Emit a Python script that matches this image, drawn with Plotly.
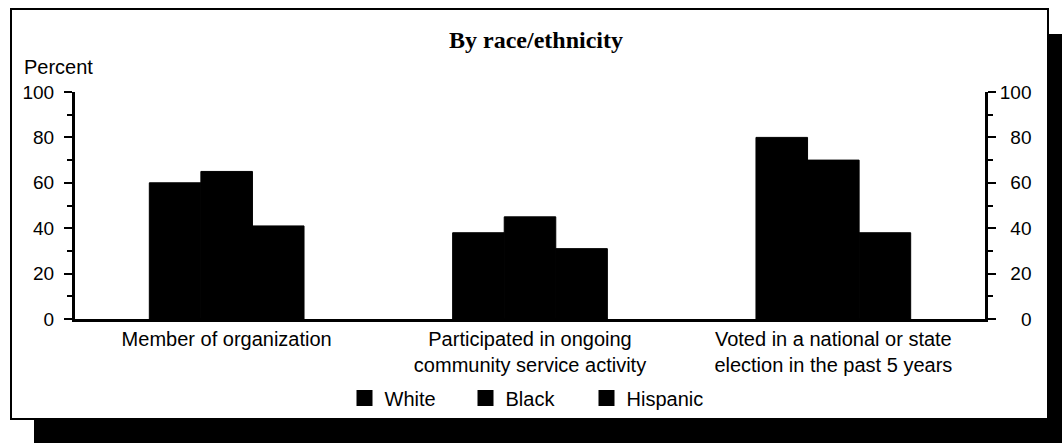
import plotly.graph_objects as go

categories = ["Member of organization",
              "Participated in ongoing<br>community service activity",
              "Voted in a national or state<br>election in the past 5 years"]
series_names = ["White", "Black", "Hispanic"]
white = [60, 38, 80]
black = [65, 45, 70]
hispanic = [41, 31, 38]
tick_vals = [0, 20, 40, 60, 80, 100]
tick_text_left = ["0", "20", "40", "60", "80", "100"]
tick_text_right = ["\u2007\u20070", "\u200720", "\u200740", "\u200760", "\u200780", "100"]

W, H = 1062, 443
def px(x):
    return x / W
def py(y):
    return 1 - y / H

FONT = "Liberation Sans, Arial, sans-serif"

fig = go.Figure()
for name, vals in zip(series_names, [white, black, hispanic]):
    fig.add_trace(go.Bar(x=categories, y=vals, name=name,
                         marker=dict(color="black", line=dict(width=1, color="black")),
                         showlegend=False))
# legend entries
for name in series_names:
    fig.add_trace(go.Scatter(x=[None], y=[None], mode="markers", name=name,
                             marker=dict(symbol="square", size=16, color="black")))
# right axis carrier
fig.add_trace(go.Scatter(x=[categories[0]], y=[None], yaxis="y2", showlegend=False, hoverinfo="skip"))

fig.update_layout(
    width=W, height=H,
    margin=dict(l=0, r=0, t=0, b=0),
    paper_bgcolor="white",
    plot_bgcolor="rgba(0,0,0,0)",
    barmode="group", bargap=0.49, bargroupgap=0,
    font=dict(family=FONT, size=20, color="black"),
    title=dict(text="<b>By race/ethnicity</b>", x=px(536), xanchor="center", y=py(40), yanchor="middle",
               font=dict(family="Liberation Serif, Times New Roman, serif", size=24, color="black")),
    xaxis=dict(domain=[px(75), px(985)], showline=True, linecolor="black", linewidth=3,
               ticks="", tickfont=dict(size=20, color="black"), automargin=False, showgrid=False,
               zeroline=False, fixedrange=True),
    yaxis=dict(domain=[py(319), py(92)], range=[0, 100], tickvals=tick_vals, ticktext=tick_text_left,
               showline=True, linecolor="black", linewidth=3, ticks="outside", ticklen=8, tickwidth=2,
               tickcolor="black", showgrid=False, zeroline=False, automargin=False,
               ticklabelstandoff=6,
               minor=dict(dtick=10, ticks="outside", ticklen=5, tickwidth=2, tickcolor="black"),
               tickfont=dict(size=19, color="black")),
    yaxis2=dict(overlaying="y", side="right", anchor="x", range=[0, 100], tickvals=tick_vals,
                ticktext=tick_text_right, showline=True, linecolor="black", linewidth=3,
                ticks="outside", ticklen=8, tickwidth=2, tickcolor="black", showgrid=False,
                zeroline=False, automargin=False,
                minor=dict(dtick=10, ticks="outside", ticklen=5, tickwidth=2, tickcolor="black"),
                tickfont=dict(size=19, color="black")),
    legend=dict(orientation="h", x=px(526), xanchor="center", y=py(398), yanchor="middle",
                font=dict(size=20, color="black"), bgcolor="rgba(0,0,0,0)", itemclick=False,
                entrywidth=76, entrywidthmode="pixels"),
    shapes=[
        dict(type="rect", xref="paper", yref="paper", x0=px(34), x1=px(1075), y0=py(460), y1=py(34),
             fillcolor="black", line=dict(width=0), layer="below"),
        dict(type="rect", xref="paper", yref="paper", x0=px(11), x1=px(1048), y0=py(419), y1=py(9),
             fillcolor="white", line=dict(color="black", width=2), layer="below"),
    ],
    annotations=[
        dict(text="Percent", xref="paper", yref="paper", x=px(22), y=py(67), xanchor="left",
             yanchor="middle", showarrow=False, font=dict(size=20, color="black")),
    ],
)

fig.write_html("out.html", config={"displayModeBar": False},
               post_script="document.body.style.margin='0';document.body.style.overflow='hidden';")
